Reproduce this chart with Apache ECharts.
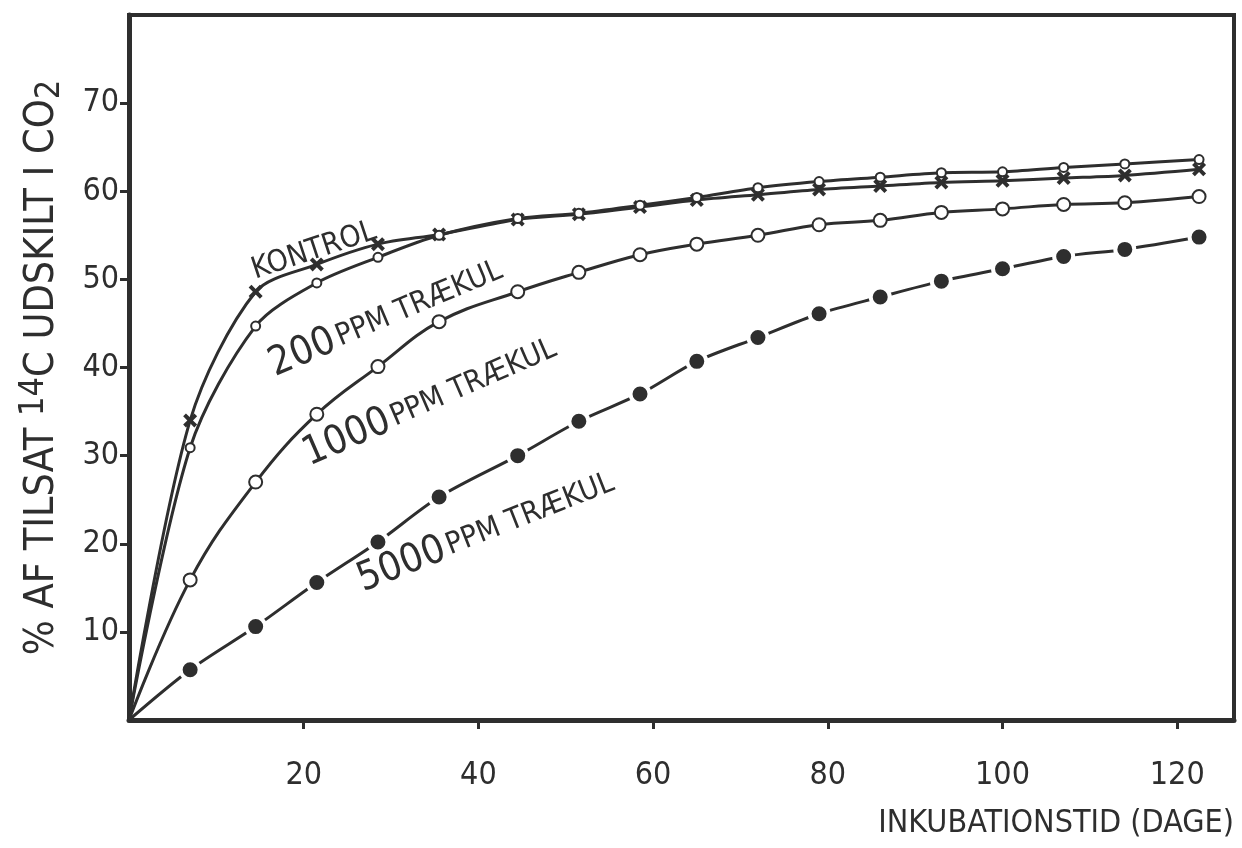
<!DOCTYPE html>
<html>
<head>
<meta charset="utf-8">
<script src="https://cdn.jsdelivr.net/npm/echarts@6/dist/echarts.min.js"></script>
<style>
  html, body { margin: 0; padding: 0; background: #fff; }
  #chart { width: 1242px; height: 848px; }
</style>
</head>
<body>
<div id="chart"></div>
<script>
// days after start (incubation time)
const days = [0, 7, 14.5, 21.5, 28.5, 35.5, 44.5, 51.5, 58.5, 65, 72, 79, 86, 93, 100, 107, 114, 122.5]

// % of added 14C released as CO2
const kontrol = [0, 34, 48.6, 51.7, 54, 55.1, 56.8, 57.4, 58.2, 59.0, 59.6, 60.2, 60.6, 61.0, 61.2, 61.5, 61.8, 62.5]
const ppm200 = [0, 30.9, 44.7, 49.6, 52.5, 55.0, 56.9, 57.5, 58.4, 59.3, 60.4, 61.1, 61.6, 62.1, 62.2, 62.7, 63.1, 63.6]
const ppm1000 = [0, 15.9, 27.0, 34.7, 40.1, 45.2, 48.6, 50.8, 52.8, 54.0, 55.0, 56.2, 56.7, 57.6, 58.0, 58.5, 58.7, 59.4]
const ppm5000 = [0, 5.7, 10.6, 15.6, 20.2, 25.3, 30.0, 33.9, 37.0, 40.7, 43.4, 46.1, 48.0, 49.8, 51.2, 52.6, 53.4, 54.8]

const xTicks = [0, 20, 40, 60, 80, 100, 120]
const yTicks = [0, 10, 20, 30, 40, 50, 60, 70]

const ink = '#2e2e2e'
const font = "'DejaVu Sans Condensed', 'DejaVu Sans', sans-serif"

function pairs(vals) {
  return vals.map((v, i) => i === 0 ? { value: [days[i], v], symbol: 'none' } : [days[i], v])
}

const crossPath = 'path://M0,2 L2,0 L5,3 L8,0 L10,2 L7,5 L10,8 L8,10 L5,7 L2,10 L0,8 L3,5 Z'

const curveLabel = (num, x, y, rot) => ({
  type: 'text',
  x: x,
  y: y,
  rotation: rot,
  style: {
    text: '{n|' + num + '} {t|PPM TRÆKUL}',
    textAlign: 'center',
    textVerticalAlign: 'middle',
    rich: {
      n: { fontFamily: font, fontSize: 40, fill: ink },
      t: { fontFamily: font, fontSize: 30, fill: ink },
    },
  },
})

const chart = echarts.init(document.getElementById('chart'))

chart.setOption({
  backgroundColor: '#fff',
  animation: false,
  textStyle: { fontFamily: font, color: ink },
  grid: {
    left: 129,
    top: 15,
    right: 8,
    bottom: 128,
    show: true,
    borderColor: ink,
    borderWidth: 4,
  },
  xAxis: {
    type: 'value',
    min: 0,
    max: 126.5,
    interval: 20,
    name: 'INKUBATIONSTID (DAGE)',
    nameLocation: 'end',
    nameGap: 0,
    nameTextStyle: {
      fontFamily: font,
      fontSize: 32,
      color: ink,
      align: 'right',
      verticalAlign: 'top',
      padding: [88, 0, 0, 0],
    },
    axisLine: { lineStyle: { color: ink, width: 5 } },
    axisTick: { length: 9, customValues: xTicks.slice(1), lineStyle: { color: ink, width: 3 } },
    splitLine: { show: false },
    axisLabel: {
      margin: 40,
      fontSize: 32,
      color: ink,
      fontFamily: font,
      customValues: xTicks.slice(1),
    },
  },
  yAxis: {
    type: 'value',
    min: 0,
    max: 80,
    interval: 10,
    name: '{a|% AF TILSAT }{sup|14}{a|C UDSKILT I CO}{sub|2}',
    nameLocation: 'middle',
    nameRotate: 90,
    nameGap: 62,
    nameTextStyle: {
      rich: {
        a: { fontFamily: font, fontSize: 41, color: ink, lineHeight: 50 },
        sup: { fontFamily: font, fontSize: 34, color: ink, verticalAlign: 'top', lineHeight: 50, padding: [0, 0, 16, 0] },
        sub: { fontFamily: font, fontSize: 34, color: ink, verticalAlign: 'bottom', lineHeight: 50, padding: [16, 0, 0, 0] },
      },
    },
    axisLine: { lineStyle: { color: ink, width: 5 } },
    axisTick: { length: 9, customValues: yTicks.slice(1), lineStyle: { color: ink, width: 3 } },
    splitLine: { show: false },
    axisLabel: {
      margin: 10,
      fontSize: 32,
      color: ink,
      fontFamily: font,
      customValues: yTicks.slice(1),
    },
  },
  graphic: [
    {
      type: 'text',
      x: 314,
      y: 251,
      rotation: 0.32,
      style: { text: 'KONTROL', fontFamily: font, fontSize: 30, fill: ink, textAlign: 'center', textVerticalAlign: 'middle' },
    },
    curveLabel('200', 386, 318, 0.4),
    curveLabel('1000', 430, 402, 0.41),
    curveLabel('5000', 486, 532, 0.375),
  ],
  series: [
    {
      name: 'KONTROL',
      type: 'line',
      smooth: 0.3,
      symbol: crossPath,
      symbolSize: 14,
      lineStyle: { color: ink, width: 3 },
      itemStyle: { color: ink },
      data: pairs(kontrol),
    },
    {
      name: '200 PPM TRÆKUL',
      type: 'line',
      smooth: 0.3,
      symbol: 'emptyCircle',
      symbolSize: 9,
      lineStyle: { color: ink, width: 3 },
      itemStyle: { color: ink, borderWidth: 2.5 },
      data: pairs(ppm200),
    },
    {
      name: '1000 PPM TRÆKUL',
      type: 'line',
      smooth: 0.4,
      symbol: 'emptyCircle',
      symbolSize: 13,
      lineStyle: { color: ink, width: 3 },
      itemStyle: { color: ink, borderWidth: 3 },
      data: pairs(ppm1000),
    },
    {
      name: '5000 PPM TRÆKUL',
      type: 'line',
      smooth: 0.3,
      symbol: 'circle',
      symbolSize: 19,
      lineStyle: { color: ink, width: 3 },
      itemStyle: { color: ink, borderColor: '#fff', borderWidth: 4 },
      data: pairs(ppm5000),
    },
  ],
})
</script>
</body>
</html>
